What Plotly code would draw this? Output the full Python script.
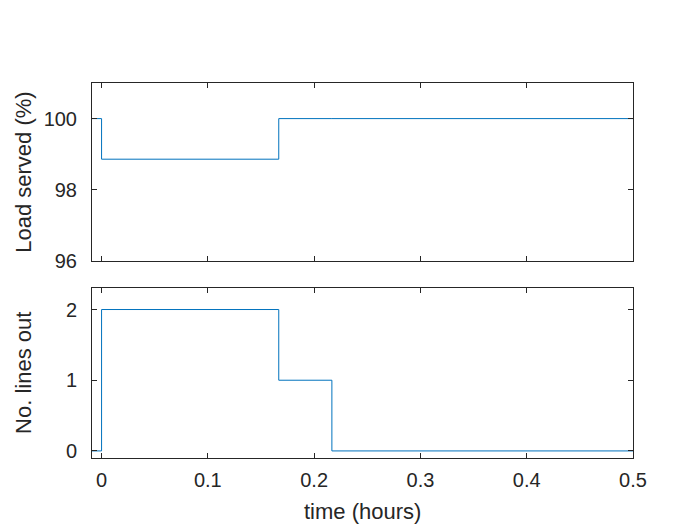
import plotly.graph_objects as go
from plotly.subplots import make_subplots

# Data (step functions)
time_hours = [-0.01, 0.0, 0.1667, 0.2167, 0.5]
load_served_pct = [100.0, 98.86, 100.0, 100.0, 100.0]
lines_out = [0, 2, 1, 0, 0]

x_ticks = [0, 0.1, 0.2, 0.3, 0.4, 0.5]
x_ticklabels = ["0", "0.1", "0.2", "0.3", "0.4", "0.5"]
load_ticks = [96, 98, 100]
lines_ticks = [0, 1, 2]

line_color = "#0072BD"
axis_color = "#262626"
font_family = "Liberation Sans, Arial, sans-serif"
fsize = 20
tsize = 22

fig = make_subplots(rows=2, cols=1, shared_xaxes=False)

fig.add_trace(go.Scatter(x=time_hours, y=load_served_pct, mode="lines",
                         line=dict(color=line_color, width=1, shape="hv"),
                         showlegend=False), row=1, col=1)
fig.add_trace(go.Scatter(x=time_hours, y=lines_out, mode="lines",
                         line=dict(color=line_color, width=1, shape="hv"),
                         showlegend=False), row=2, col=1)

common_axis = dict(showline=True, linecolor=axis_color, linewidth=1, mirror="ticks",
                   ticks="inside", ticklen=5, tickwidth=1, tickcolor=axis_color,
                   showgrid=False, zeroline=False,
                   tickfont=dict(family=font_family, size=fsize, color=axis_color))

fig.update_xaxes(range=[-0.009, 0.5], tickvals=x_ticks, ticktext=x_ticklabels,
                 ticklabelstandoff=4, **common_axis)
fig.update_xaxes(showticklabels=False, row=1, col=1)
fig.update_xaxes(domain=[0, 1])
fig.update_yaxes(ticklabelstandoff=10, **common_axis)
fig.update_yaxes(range=[96, 101], tickvals=load_ticks, domain=[0.5253, 1], row=1, col=1)
fig.update_yaxes(range=[-0.1, 2.3], tickvals=lines_ticks, domain=[0, 0.4525], row=2, col=1)

fig.add_annotation(text="Load served (%)", textangle=-90, xref="paper", yref="paper",
                   x=-0.128, y=(1 + 0.5253) / 2, xanchor="center", yanchor="middle",
                   showarrow=False, font=dict(family=font_family, size=tsize, color=axis_color))
fig.add_annotation(text="No. lines out", textangle=-90, xref="paper", yref="paper",
                   x=-0.128, y=0.4525 / 2, xanchor="center", yanchor="middle",
                   showarrow=False, font=dict(family=font_family, size=tsize, color=axis_color))
fig.add_annotation(text="time (hours)", xref="paper", yref="paper",
                   x=0.5, y=-0.144, xanchor="center", yanchor="middle",
                   showarrow=False, font=dict(family=font_family, size=tsize, color=axis_color))

fig.update_layout(width=700, height=525, margin=dict(l=92, r=67, t=83, b=67),
                  plot_bgcolor="white", paper_bgcolor="white",
                  font=dict(family=font_family, size=fsize, color=axis_color))

fig.write_html("out.html")
